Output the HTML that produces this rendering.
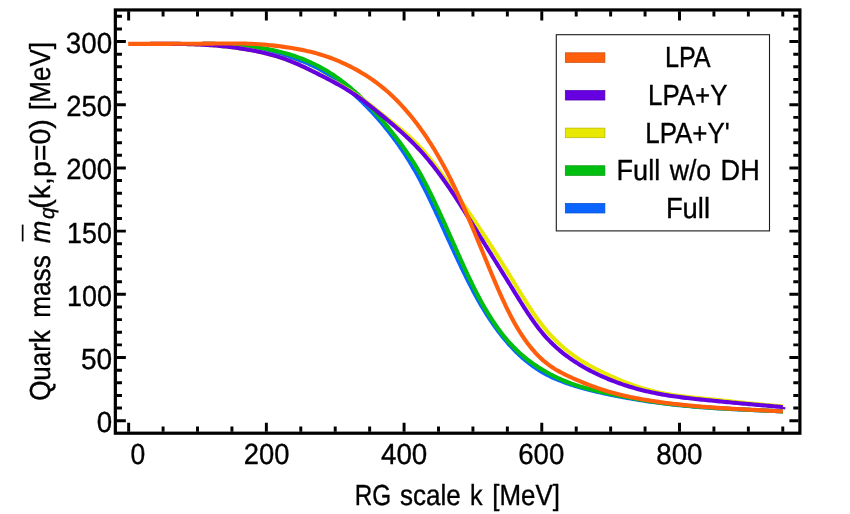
<!DOCTYPE html>
<html><head><meta charset="utf-8"><title>Quark mass vs RG scale</title>
<style>html,body{margin:0;padding:0;background:#fff;}body{width:850px;height:514px;overflow:hidden;position:relative;font-family:"Liberation Sans",sans-serif;}text{fill:#000;stroke:#000;stroke-width:0.35px}</style></head>
<body>
<svg width="850" height="514" viewBox="0 0 850 514" style="position:absolute;left:0;top:0;will-change:transform;text-rendering:geometricPrecision;font-family:'Liberation Sans',sans-serif">
<rect x="0" y="0" width="850" height="514" fill="#ffffff"/>
<g fill="none" stroke-width="4.1" stroke-linejoin="round" stroke-linecap="butt">
<path stroke="#0a64ff" d="M203.00 43.70L205.00 43.74L207.00 43.77L209.00 43.81L211.00 43.85L213.00 43.89L215.00 43.93L217.00 43.98L219.00 44.04L221.00 44.10L222.99 44.17L224.99 44.26L226.99 44.35L228.99 44.46L230.99 44.57L232.98 44.71L234.98 44.86L236.97 45.02L238.96 45.21L240.95 45.42L242.94 45.64L244.93 45.89L246.91 46.16L248.89 46.45L250.87 46.77L252.84 47.11L254.81 47.48L256.77 47.87L258.73 48.28L260.69 48.71L262.64 49.16L264.59 49.62L266.53 50.11L268.47 50.61L270.40 51.12L272.33 51.64L274.26 52.18L276.19 52.73L278.11 53.29L280.03 53.86L281.94 54.43L283.86 55.02L285.77 55.61L287.68 56.21L289.59 56.81L291.49 57.43L293.39 58.05L295.29 58.70L297.18 59.35L299.07 60.03L300.95 60.72L302.82 61.43L304.69 62.17L306.54 62.92L308.39 63.70L310.23 64.51L312.06 65.34L313.87 66.20L315.67 67.08L317.46 67.99L319.24 68.93L320.99 69.90L322.74 70.90L324.47 71.92L326.18 72.97L327.88 74.05L329.56 75.14L331.23 76.26L332.89 77.40L334.53 78.55L336.16 79.73L337.77 80.92L339.37 82.13L340.96 83.36L342.54 84.60L344.10 85.86L345.66 87.13L347.20 88.42L348.73 89.71L350.25 91.02L351.76 92.35L353.26 93.68L354.75 95.02L356.23 96.38L357.70 97.74L359.16 99.12L360.62 100.50L362.06 101.90L363.49 103.30L364.91 104.72L366.33 106.14L367.73 107.58L369.12 109.02L370.51 110.48L371.88 111.94L373.24 113.42L374.59 114.90L375.94 116.39L377.27 117.89L378.59 119.40L379.91 120.92L381.21 122.45L382.50 123.99L383.78 125.53L385.06 127.08L386.32 128.64L387.57 130.21L388.82 131.79L390.05 133.37L391.28 134.96L392.49 136.56L393.70 138.17L394.89 139.78L396.08 141.40L397.25 143.03L398.41 144.67L399.57 146.32L400.71 147.97L401.84 149.63L402.97 151.29L404.08 152.97L405.18 154.65L406.27 156.34L407.35 158.03L408.42 159.74L409.48 161.45L410.52 163.16L411.56 164.88L412.59 166.61L413.60 168.35L414.61 170.09L415.61 171.83L416.59 173.58L417.57 175.34L418.53 177.10L419.49 178.87L420.44 180.64L421.38 182.42L422.30 184.20L423.22 185.99L424.14 187.78L425.04 189.57L425.94 191.37L426.83 193.16L427.72 194.96L428.60 196.77L429.47 198.57L430.34 200.38L431.20 202.19L432.07 204.00L432.92 205.81L433.78 207.62L434.63 209.44L435.47 211.25L436.32 213.07L437.16 214.89L438.00 216.71L438.83 218.52L439.67 220.34L440.50 222.16L441.34 223.98L442.17 225.80L443.00 227.62L443.83 229.44L444.66 231.26L445.49 233.08L446.31 234.90L447.14 236.72L447.97 238.54L448.80 240.36L449.64 242.18L450.47 244.00L451.30 245.81L452.14 247.63L452.98 249.44L453.81 251.25L454.66 253.06L455.50 254.88L456.34 256.68L457.19 258.49L458.04 260.30L458.90 262.10L459.75 263.91L460.61 265.71L461.47 267.51L462.34 269.31L463.21 271.10L464.08 272.90L464.96 274.69L465.85 276.48L466.73 278.26L467.62 280.05L468.52 281.83L469.42 283.61L470.33 285.38L471.25 287.15L472.17 288.92L473.09 290.68L474.03 292.44L474.97 294.20L475.92 295.95L476.88 297.69L477.84 299.44L478.82 301.17L479.80 302.90L480.79 304.62L481.80 306.34L482.81 308.05L483.84 309.76L484.88 311.46L485.92 313.15L486.98 314.83L488.06 316.50L489.14 318.17L490.23 319.83L491.34 321.48L492.46 323.13L493.60 324.76L494.74 326.39L495.90 328.00L497.08 329.61L498.26 331.20L499.46 332.78L500.68 334.36L501.91 335.92L503.16 337.47L504.42 339.01L505.69 340.53L506.98 342.04L508.29 343.54L509.61 345.02L510.95 346.49L512.31 347.94L513.68 349.38L515.07 350.80L516.48 352.20L517.91 353.59L519.35 354.96L520.81 356.30L522.29 357.63L523.79 358.94L525.30 360.22L526.84 361.49L528.39 362.73L529.96 363.94L531.56 365.14L533.17 366.30L534.79 367.44L536.44 368.56L538.11 369.64L539.79 370.70L541.50 371.73L543.22 372.73L544.96 373.70L546.71 374.64L548.48 375.55L550.27 376.43L552.07 377.29L553.88 378.11L555.71 378.91L557.54 379.69L559.39 380.44L561.25 381.16L563.12 381.87L564.99 382.55L566.88 383.22L568.76 383.86L570.66 384.49L572.56 385.11L574.47 385.71L576.38 386.29L578.29 386.87L580.21 387.42L582.13 387.97L584.06 388.50L585.99 389.02L587.92 389.53L589.85 390.03L591.79 390.52L593.73 390.99L595.68 391.46L597.62 391.92L599.57 392.37L601.52 392.81L603.47 393.24L605.43 393.66L607.38 394.08L609.34 394.49L611.29 394.90L613.25 395.30L615.21 395.69L617.18 396.07L619.14 396.45L621.10 396.82L623.07 397.19L625.04 397.55L627.00 397.90L628.97 398.25L630.94 398.59L632.92 398.93L634.89 399.25L636.86 399.58L638.83 399.89L640.81 400.21L642.79 400.51L644.76 400.81L646.74 401.11L648.72 401.39L650.70 401.68L652.68 401.96L654.66 402.23L656.64 402.50L658.62 402.76L660.61 403.01L662.59 403.27L664.58 403.51L666.56 403.75L668.55 403.99L670.53 404.22L672.52 404.45L674.51 404.67L676.50 404.88L678.48 405.09L680.47 405.30L682.46 405.50L684.45 405.70L686.44 405.89L688.43 406.07L690.43 406.26L692.42 406.43L694.41 406.61L696.40 406.77L698.40 406.94L700.39 407.10L702.38 407.25L704.38 407.40L706.37 407.55L708.37 407.69L710.36 407.82L712.36 407.96L714.35 408.09L716.35 408.21L718.35 408.33L720.34 408.45L722.34 408.56L724.34 408.67L726.33 408.78L728.33 408.89L730.33 408.99L732.32 409.09L734.32 409.19L736.32 409.28L738.32 409.38L740.31 409.47L742.31 409.56L744.31 409.66L746.31 409.75L748.31 409.83L750.30 409.92L752.30 410.01L754.30 410.10L756.30 410.19L758.30 410.27L760.29 410.36L762.29 410.45L764.29 410.54L766.29 410.63L768.29 410.73L770.28 410.82L772.28 410.91L774.28 411.01L776.28 411.11L778.28 411.21L780.27 411.31L782.27 411.42L782.80 411.45"/>
<path stroke="#00be10" d="M203.00 43.72L205.00 43.73L207.00 43.75L209.00 43.78L211.00 43.81L213.00 43.85L215.00 43.90L217.00 43.96L219.00 44.03L221.00 44.10L222.99 44.19L224.99 44.28L226.99 44.38L228.99 44.50L230.98 44.62L232.98 44.75L234.97 44.90L236.97 45.05L238.96 45.22L240.95 45.40L242.95 45.59L244.94 45.79L246.93 46.00L248.91 46.23L250.90 46.47L252.89 46.72L254.87 46.98L256.85 47.26L258.83 47.56L260.81 47.86L262.78 48.19L264.75 48.53L266.72 48.89L268.69 49.26L270.65 49.65L272.61 50.06L274.57 50.48L276.52 50.93L278.47 51.39L280.41 51.87L282.35 52.38L284.28 52.90L286.21 53.44L288.14 54.00L290.05 54.58L291.96 55.19L293.87 55.81L295.76 56.46L297.65 57.13L299.53 57.82L301.41 58.53L303.27 59.26L305.13 60.02L306.98 60.80L308.82 61.60L310.65 62.42L312.47 63.26L314.27 64.13L316.07 65.02L317.86 65.93L319.64 66.86L321.40 67.82L323.15 68.79L324.90 69.79L326.63 70.81L328.34 71.85L330.05 72.91L331.74 73.99L333.42 75.09L335.09 76.20L336.74 77.34L338.38 78.50L340.01 79.68L341.62 80.87L343.23 82.08L344.81 83.31L346.39 84.56L347.95 85.83L349.50 87.11L351.03 88.40L352.55 89.72L354.06 91.04L355.55 92.39L357.03 93.74L358.50 95.11L359.96 96.50L361.40 97.89L362.83 99.30L364.25 100.72L365.66 102.15L367.06 103.59L368.45 105.04L369.83 106.50L371.20 107.96L372.56 109.44L373.91 110.92L375.25 112.41L376.59 113.91L377.92 115.41L379.24 116.92L380.55 118.44L381.85 119.96L383.15 121.49L384.44 123.03L385.72 124.57L387.00 126.11L388.27 127.66L389.53 129.22L390.79 130.78L392.05 132.34L393.30 133.91L394.54 135.49L395.77 137.07L396.99 138.66L398.21 140.26L399.42 141.86L400.62 143.47L401.81 145.09L402.98 146.72L404.15 148.36L405.31 150.00L406.45 151.65L407.59 153.31L408.71 154.98L409.82 156.65L410.92 158.34L412.01 160.03L413.09 161.73L414.15 163.44L415.20 165.15L416.24 166.87L417.27 168.60L418.28 170.34L419.28 172.09L420.27 173.84L421.25 175.59L422.22 177.36L423.18 179.13L424.12 180.90L425.06 182.68L425.99 184.46L426.91 186.24L427.82 188.03L428.73 189.82L429.63 191.62L430.52 193.42L431.40 195.22L432.28 197.02L433.15 198.83L434.02 200.64L434.89 202.45L435.74 204.26L436.60 206.07L437.45 207.89L438.29 209.71L439.14 211.52L439.98 213.34L440.81 215.16L441.65 216.99L442.48 218.81L443.31 220.63L444.13 222.46L444.95 224.28L445.78 226.11L446.60 227.93L447.42 229.76L448.23 231.59L449.05 233.41L449.86 235.24L450.68 237.07L451.49 238.90L452.31 240.72L453.12 242.55L453.93 244.38L454.75 246.20L455.56 248.03L456.38 249.85L457.19 251.68L458.01 253.50L458.83 255.33L459.65 257.15L460.47 258.97L461.29 260.79L462.12 262.61L462.94 264.43L463.78 266.24L464.61 268.05L465.45 269.87L466.29 271.68L467.13 273.49L467.98 275.29L468.83 277.09L469.69 278.90L470.55 280.69L471.41 282.49L472.29 284.28L473.17 286.07L474.05 287.85L474.94 289.64L475.84 291.41L476.75 293.19L477.66 294.95L478.59 296.72L479.52 298.47L480.46 300.23L481.42 301.97L482.38 303.71L483.35 305.44L484.34 307.17L485.34 308.89L486.35 310.60L487.37 312.31L488.41 314.00L489.45 315.69L490.52 317.37L491.59 319.04L492.68 320.71L493.78 322.36L494.90 324.00L496.03 325.64L497.17 327.26L498.34 328.87L499.51 330.47L500.71 332.06L501.92 333.63L503.14 335.19L504.39 336.74L505.65 338.27L506.93 339.79L508.23 341.29L509.55 342.78L510.89 344.24L512.25 345.69L513.62 347.12L515.02 348.53L516.44 349.93L517.87 351.30L519.33 352.65L520.81 353.98L522.30 355.29L523.82 356.57L525.35 357.84L526.90 359.08L528.47 360.30L530.06 361.50L531.67 362.67L533.29 363.83L534.93 364.96L536.58 366.07L538.25 367.16L539.93 368.23L541.62 369.28L543.33 370.31L545.05 371.32L546.78 372.31L548.52 373.28L550.27 374.22L552.04 375.15L553.81 376.05L555.60 376.94L557.40 377.80L559.21 378.64L561.03 379.45L562.86 380.24L564.70 381.01L566.55 381.76L568.41 382.48L570.28 383.18L572.16 383.86L574.04 384.52L575.93 385.15L577.84 385.76L579.74 386.35L581.66 386.93L583.57 387.48L585.50 388.02L587.43 388.54L589.36 389.04L591.30 389.54L593.24 390.02L595.18 390.48L597.12 390.94L599.07 391.39L601.02 391.83L602.97 392.26L604.93 392.69L606.88 393.12L608.84 393.54L610.79 393.95L612.75 394.36L614.71 394.77L616.67 395.17L618.62 395.57L620.59 395.97L622.55 396.35L624.51 396.74L626.47 397.11L628.44 397.49L630.40 397.85L632.37 398.22L634.34 398.57L636.31 398.92L638.27 399.27L640.25 399.60L642.22 399.93L644.19 400.26L646.16 400.58L648.14 400.89L650.12 401.20L652.09 401.49L654.07 401.79L656.05 402.07L658.03 402.35L660.01 402.62L661.99 402.89L663.97 403.15L665.96 403.40L667.94 403.65L669.93 403.89L671.91 404.12L673.90 404.35L675.89 404.58L677.87 404.79L679.86 405.01L681.85 405.21L683.84 405.41L685.83 405.61L687.82 405.80L689.81 405.99L691.81 406.17L693.80 406.35L695.79 406.52L697.78 406.68L699.78 406.85L701.77 407.01L703.76 407.16L705.76 407.31L707.75 407.46L709.75 407.60L711.74 407.74L713.74 407.87L715.73 408.00L717.73 408.13L719.72 408.25L721.72 408.37L723.72 408.49L725.71 408.61L727.71 408.72L729.71 408.83L731.70 408.94L733.70 409.04L735.70 409.15L737.70 409.25L739.69 409.35L741.69 409.45L743.69 409.55L745.69 409.65L747.68 409.74L749.68 409.84L751.68 409.93L753.68 410.02L755.67 410.12L757.67 410.21L759.67 410.30L761.67 410.40L763.67 410.49L765.66 410.58L767.66 410.68L769.66 410.77L771.66 410.87L773.65 410.97L775.65 411.07L777.65 411.17L779.65 411.27L781.64 411.37L782.80 411.43"/>
<path stroke="#e8e800" d="M150.00 43.88L152.00 43.86L154.00 43.85L156.00 43.84L158.00 43.83L160.00 43.82L162.00 43.81L164.00 43.81L166.00 43.81L168.00 43.81L170.00 43.82L172.00 43.83L174.00 43.85L176.00 43.87L178.00 43.89L180.00 43.92L182.00 43.95L184.00 43.99L186.00 44.04L188.00 44.09L190.00 44.14L192.00 44.21L193.99 44.28L195.99 44.36L197.99 44.44L199.99 44.53L201.99 44.64L203.98 44.74L205.98 44.86L207.98 44.99L209.97 45.12L211.97 45.27L213.96 45.42L215.96 45.58L217.95 45.76L219.94 45.94L221.93 46.13L223.92 46.34L225.91 46.55L227.90 46.78L229.89 47.01L231.87 47.26L233.86 47.51L235.84 47.78L237.82 48.06L239.80 48.35L241.78 48.65L243.75 48.96L245.73 49.29L247.70 49.62L249.67 49.97L251.64 50.32L253.61 50.69L255.57 51.08L257.53 51.47L259.49 51.89L261.45 52.31L263.40 52.75L265.35 53.21L267.29 53.69L269.24 54.19L271.17 54.70L273.10 55.23L275.03 55.78L276.95 56.35L278.86 56.95L280.77 57.56L282.67 58.20L284.56 58.86L286.45 59.54L288.32 60.24L290.19 60.96L292.06 61.70L293.91 62.45L295.76 63.23L297.60 64.01L299.44 64.82L301.27 65.63L303.09 66.45L304.91 67.29L306.73 68.14L308.54 68.99L310.35 69.85L312.15 70.72L313.95 71.59L315.75 72.47L317.54 73.35L319.34 74.24L321.13 75.13L322.92 76.02L324.71 76.91L326.50 77.81L328.29 78.72L330.07 79.63L331.85 80.55L333.62 81.48L335.39 82.42L337.15 83.37L338.91 84.33L340.66 85.31L342.40 86.30L344.14 87.30L345.87 88.32L347.59 89.35L349.30 90.40L350.99 91.47L352.68 92.55L354.36 93.65L356.03 94.76L357.69 95.90L359.33 97.04L360.97 98.21L362.59 99.38L364.21 100.57L365.82 101.76L367.42 102.97L369.02 104.18L370.60 105.40L372.19 106.63L373.77 107.86L375.34 109.10L376.91 110.34L378.48 111.58L380.05 112.83L381.61 114.08L383.17 115.33L384.73 116.58L386.30 117.82L387.86 119.07L389.42 120.32L390.99 121.56L392.55 122.80L394.12 124.04L395.69 125.29L397.25 126.54L398.82 127.79L400.37 129.05L401.92 130.32L403.47 131.61L405.00 132.90L406.52 134.21L408.04 135.53L409.54 136.86L411.02 138.22L412.49 139.58L413.95 140.97L415.39 142.37L416.82 143.80L418.22 145.24L419.61 146.70L420.98 148.17L422.33 149.67L423.66 151.18L424.98 152.70L426.28 154.23L427.57 155.77L428.84 157.33L430.10 158.89L431.35 160.46L432.59 162.04L433.82 163.63L435.05 165.22L436.26 166.82L437.47 168.42L438.67 170.03L439.86 171.64L441.05 173.25L442.23 174.87L443.41 176.49L444.58 178.11L445.75 179.74L446.92 181.37L448.08 182.99L449.24 184.62L450.40 186.25L451.56 187.88L452.72 189.52L453.88 191.15L455.04 192.78L456.19 194.41L457.35 196.05L458.50 197.69L459.65 199.32L460.80 200.96L461.95 202.60L463.09 204.24L464.24 205.89L465.38 207.53L466.52 209.17L467.66 210.82L468.79 212.47L469.93 214.12L471.06 215.77L472.19 217.42L473.32 219.08L474.44 220.73L475.57 222.39L476.69 224.05L477.81 225.71L478.92 227.37L480.04 229.03L481.15 230.70L482.26 232.37L483.36 234.04L484.47 235.71L485.57 237.38L486.66 239.05L487.76 240.73L488.85 242.41L489.95 244.09L491.03 245.77L492.12 247.45L493.20 249.13L494.28 250.82L495.36 252.50L496.44 254.19L497.51 255.88L498.59 257.57L499.66 259.26L500.72 260.96L501.79 262.65L502.85 264.35L503.91 266.05L504.97 267.75L506.03 269.45L507.08 271.15L508.13 272.85L509.18 274.56L510.23 276.26L511.28 277.97L512.32 279.68L513.36 281.39L514.41 283.09L515.45 284.80L516.49 286.51L517.53 288.21L518.57 289.92L519.62 291.62L520.67 293.32L521.72 295.02L522.77 296.72L523.83 298.41L524.89 300.10L525.95 301.79L527.03 303.47L528.10 305.15L529.19 306.82L530.28 308.49L531.38 310.15L532.49 311.80L533.60 313.45L534.73 315.09L535.87 316.72L537.02 318.34L538.19 319.95L539.37 321.55L540.56 323.14L541.78 324.71L543.00 326.27L544.25 327.82L545.51 329.35L546.80 330.87L548.10 332.37L549.42 333.85L550.75 335.32L552.11 336.77L553.48 338.21L554.87 339.62L556.29 341.02L557.72 342.40L559.16 343.76L560.63 345.10L562.12 346.42L563.62 347.73L565.14 349.01L566.68 350.27L568.24 351.50L569.81 352.72L571.40 353.92L573.01 355.10L574.63 356.25L576.26 357.39L577.91 358.50L579.58 359.60L581.25 360.67L582.95 361.72L584.65 362.76L586.37 363.77L588.09 364.77L589.83 365.74L591.58 366.70L593.34 367.65L595.10 368.57L596.88 369.49L598.66 370.38L600.45 371.27L602.25 372.14L604.05 373.01L605.85 373.86L607.67 374.70L609.48 375.54L611.30 376.36L613.12 377.18L614.95 377.98L616.78 378.78L618.62 379.56L620.47 380.33L622.31 381.08L624.17 381.83L626.03 382.56L627.89 383.27L629.76 383.98L631.63 384.66L633.51 385.34L635.40 385.99L637.29 386.63L639.19 387.26L641.09 387.86L643.00 388.45L644.92 389.02L646.84 389.56L648.76 390.09L650.69 390.60L652.63 391.09L654.57 391.56L656.52 392.00L658.47 392.43L660.43 392.84L662.39 393.23L664.35 393.61L666.32 393.96L668.28 394.31L670.26 394.63L672.23 394.95L674.21 395.25L676.19 395.53L678.17 395.81L680.15 396.07L682.13 396.32L684.11 396.57L686.10 396.80L688.09 397.03L690.07 397.25L692.06 397.46L694.05 397.67L696.04 397.88L698.03 398.08L700.02 398.28L702.01 398.47L704.00 398.67L705.99 398.86L707.98 399.06L709.97 399.26L711.96 399.46L713.95 399.66L715.94 399.87L717.93 400.07L719.92 400.28L721.91 400.49L723.90 400.70L725.89 400.91L727.88 401.13L729.86 401.34L731.85 401.55L733.84 401.76L735.83 401.98L737.82 402.19L739.81 402.40L741.80 402.61L743.79 402.82L745.78 403.02L747.76 403.23L749.75 403.43L751.74 403.63L753.73 403.83L755.72 404.03L757.71 404.22L759.71 404.41L761.70 404.60L763.69 404.78L765.68 404.96L767.67 405.13L769.66 405.30L771.66 405.47L773.65 405.63L775.65 405.78L777.64 405.93L779.63 406.07L781.63 406.21L782.80 406.29"/>
<path stroke="#6600e0" d="M150.00 43.88L152.00 43.86L154.00 43.85L156.00 43.84L158.00 43.83L160.00 43.82L162.00 43.81L164.00 43.81L166.00 43.81L168.00 43.81L170.00 43.82L172.00 43.83L174.00 43.85L176.00 43.87L178.00 43.89L180.00 43.92L182.00 43.95L184.00 43.99L186.00 44.04L188.00 44.09L190.00 44.14L192.00 44.21L193.99 44.28L195.99 44.36L197.99 44.44L199.99 44.53L201.99 44.64L203.98 44.74L205.98 44.86L207.98 44.99L209.97 45.12L211.97 45.27L213.96 45.42L215.96 45.58L217.95 45.76L219.94 45.94L221.93 46.13L223.92 46.34L225.91 46.55L227.90 46.78L229.89 47.01L231.87 47.26L233.86 47.51L235.84 47.78L237.82 48.06L239.80 48.35L241.78 48.65L243.76 48.96L245.73 49.28L247.70 49.62L249.67 49.96L251.64 50.32L253.61 50.69L255.57 51.07L257.54 51.47L259.50 51.88L261.45 52.30L263.40 52.75L265.35 53.21L267.30 53.68L269.24 54.18L271.17 54.70L273.10 55.23L275.03 55.79L276.94 56.37L278.86 56.96L280.76 57.59L282.66 58.23L284.55 58.90L286.43 59.59L288.30 60.30L290.17 61.03L292.03 61.78L293.88 62.55L295.72 63.34L297.56 64.14L299.39 64.96L301.21 65.79L303.03 66.63L304.84 67.48L306.65 68.34L308.45 69.21L310.25 70.09L312.04 70.98L313.84 71.87L315.63 72.76L317.41 73.66L319.20 74.56L320.98 75.47L322.77 76.38L324.55 77.29L326.33 78.20L328.11 79.12L329.88 80.05L331.65 80.99L333.42 81.93L335.18 82.88L336.94 83.85L338.69 84.82L340.43 85.81L342.17 86.81L343.90 87.82L345.62 88.85L347.33 89.89L349.04 90.94L350.73 92.01L352.42 93.10L354.10 94.20L355.76 95.32L357.42 96.46L359.06 97.61L360.69 98.78L362.31 99.95L363.93 101.14L365.53 102.35L367.13 103.56L368.72 104.78L370.30 106.01L371.88 107.25L373.45 108.50L375.01 109.75L376.57 111.01L378.12 112.28L379.66 113.55L381.21 114.83L382.75 116.11L384.28 117.39L385.81 118.68L387.34 119.97L388.87 121.27L390.40 122.56L391.92 123.86L393.44 125.16L394.96 126.47L396.47 127.78L397.98 129.09L399.49 130.41L400.99 131.74L402.48 133.08L403.97 134.43L405.45 135.78L406.92 137.15L408.38 138.52L409.83 139.91L411.27 141.31L412.70 142.72L414.12 144.14L415.53 145.57L416.92 147.02L418.30 148.47L419.67 149.94L421.03 151.43L422.38 152.92L423.71 154.43L425.03 155.94L426.33 157.47L427.63 159.00L428.91 160.55L430.18 162.10L431.45 163.66L432.70 165.23L433.94 166.81L435.17 168.40L436.39 169.99L437.61 171.59L438.81 173.19L440.01 174.81L441.19 176.43L442.37 178.05L443.54 179.68L444.71 181.32L445.86 182.96L447.01 184.60L448.15 186.25L449.28 187.91L450.41 189.57L451.53 191.23L452.64 192.90L453.75 194.57L454.85 196.25L455.95 197.93L457.04 199.61L458.12 201.29L459.21 202.98L460.28 204.67L461.36 206.36L462.43 208.05L463.50 209.74L464.56 211.44L465.62 213.14L466.68 214.84L467.74 216.54L468.80 218.24L469.85 219.94L470.90 221.64L471.96 223.34L473.01 225.04L474.06 226.75L475.11 228.45L476.16 230.15L477.20 231.85L478.25 233.56L479.30 235.26L480.35 236.96L481.41 238.66L482.46 240.36L483.51 242.06L484.56 243.76L485.62 245.46L486.67 247.16L487.73 248.85L488.79 250.55L489.84 252.25L490.90 253.95L491.96 255.64L493.01 257.34L494.07 259.04L495.13 260.74L496.19 262.44L497.24 264.13L498.30 265.83L499.36 267.53L500.41 269.23L501.47 270.93L502.53 272.63L503.58 274.33L504.63 276.03L505.69 277.73L506.74 279.43L507.79 281.13L508.85 282.83L509.90 284.54L510.95 286.24L511.99 287.94L513.04 289.65L514.09 291.35L515.14 293.05L516.19 294.75L517.24 296.45L518.29 298.15L519.35 299.84L520.41 301.53L521.47 303.22L522.54 304.91L523.61 306.59L524.69 308.27L525.77 309.94L526.86 311.61L527.96 313.28L529.07 314.93L530.18 316.58L531.31 318.23L532.44 319.86L533.59 321.49L534.74 323.11L535.91 324.71L537.10 326.31L538.30 327.89L539.52 329.46L540.76 331.01L542.01 332.55L543.29 334.07L544.58 335.57L545.90 337.05L547.24 338.52L548.59 339.97L549.97 341.40L551.37 342.81L552.79 344.19L554.23 345.56L555.69 346.91L557.17 348.24L558.67 349.54L560.19 350.83L561.72 352.09L563.27 353.33L564.85 354.55L566.43 355.75L568.03 356.93L569.65 358.10L571.28 359.24L572.93 360.36L574.58 361.47L576.25 362.56L577.94 363.63L579.63 364.68L581.34 365.71L583.05 366.72L584.78 367.71L586.52 368.68L588.27 369.64L590.03 370.58L591.81 371.49L593.59 372.39L595.38 373.28L597.17 374.14L598.98 374.99L600.79 375.82L602.62 376.63L604.45 377.43L606.28 378.22L608.13 378.98L609.97 379.74L611.83 380.47L613.69 381.20L615.56 381.90L617.43 382.59L619.31 383.27L621.20 383.93L623.09 384.57L624.98 385.20L626.88 385.82L628.79 386.42L630.70 387.00L632.61 387.57L634.53 388.12L636.46 388.66L638.39 389.19L640.32 389.69L642.25 390.19L644.19 390.67L646.14 391.13L648.08 391.58L650.03 392.02L651.99 392.44L653.94 392.85L655.90 393.25L657.86 393.63L659.83 394.00L661.80 394.36L663.76 394.70L665.74 395.04L667.71 395.36L669.68 395.67L671.66 395.97L673.64 396.27L675.62 396.55L677.60 396.82L679.58 397.09L681.56 397.35L683.54 397.60L685.53 397.84L687.51 398.08L689.50 398.31L691.49 398.53L693.48 398.75L695.46 398.97L697.45 399.18L699.44 399.39L701.43 399.59L703.42 399.79L705.41 399.99L707.40 400.19L709.39 400.39L711.38 400.58L713.37 400.78L715.36 400.97L717.35 401.16L719.34 401.35L721.33 401.54L723.33 401.74L725.32 401.93L727.31 402.11L729.30 402.30L731.29 402.49L733.28 402.68L735.27 402.86L737.26 403.05L739.25 403.23L741.25 403.42L743.24 403.60L745.23 403.78L747.22 403.96L749.21 404.15L751.20 404.33L753.20 404.50L755.19 404.68L757.18 404.86L759.17 405.04L761.17 405.21L763.16 405.39L765.15 405.56L767.14 405.74L769.13 405.91L771.13 406.08L773.12 406.25L775.11 406.42L777.11 406.59L779.10 406.76L781.09 406.93L782.80 407.07"/>
<path stroke="#ff5e0c" d="M128.20 43.85L130.20 43.85L132.20 43.85L134.20 43.85L136.20 43.85L138.20 43.85L140.20 43.86L142.20 43.86L144.20 43.86L146.20 43.86L148.20 43.86L150.20 43.86L152.20 43.85L154.20 43.85L156.20 43.85L158.20 43.85L160.20 43.85L162.20 43.84L164.20 43.84L166.20 43.84L168.20 43.83L170.20 43.83L172.20 43.82L174.20 43.82L176.20 43.81L178.20 43.81L180.20 43.80L182.20 43.79L184.20 43.78L186.20 43.77L188.20 43.76L190.20 43.75L192.20 43.74L194.20 43.73L196.20 43.72L198.20 43.70L200.20 43.69L202.20 43.67L204.20 43.66L206.20 43.64L208.20 43.63L210.20 43.61L212.20 43.59L214.20 43.57L216.20 43.55L218.20 43.53L220.20 43.51L222.20 43.49L224.20 43.47L226.20 43.45L228.20 43.44L230.20 43.43L232.20 43.43L234.20 43.43L236.20 43.44L238.20 43.46L240.20 43.49L242.20 43.52L244.20 43.56L246.20 43.62L248.20 43.68L250.20 43.76L252.19 43.85L254.19 43.95L256.19 44.06L258.18 44.19L260.18 44.33L262.18 44.47L264.17 44.64L266.16 44.81L268.15 45.00L270.14 45.19L272.13 45.40L274.12 45.62L276.11 45.85L278.10 46.09L280.08 46.34L282.06 46.60L284.05 46.88L286.03 47.16L288.01 47.46L289.98 47.76L291.96 48.08L293.93 48.41L295.90 48.76L297.87 49.11L299.84 49.49L301.80 49.88L303.76 50.29L305.72 50.71L307.67 51.15L309.62 51.61L311.57 52.09L313.51 52.58L315.44 53.10L317.37 53.64L319.29 54.19L321.21 54.77L323.12 55.37L325.03 55.99L326.93 56.63L328.82 57.30L330.70 57.98L332.58 58.69L334.45 59.41L336.31 60.16L338.16 60.92L340.00 61.71L341.84 62.51L343.66 63.34L345.48 64.19L347.29 65.05L349.09 65.94L350.88 66.84L352.66 67.76L354.43 68.70L356.20 69.66L357.95 70.64L359.69 71.63L361.42 72.65L363.14 73.68L364.85 74.74L366.54 75.81L368.23 76.90L369.90 78.01L371.56 79.15L373.20 80.30L374.83 81.47L376.45 82.66L378.06 83.87L379.65 85.09L381.22 86.34L382.79 87.60L384.33 88.89L385.86 90.19L387.38 91.51L388.88 92.84L390.37 94.19L391.84 95.56L393.30 96.95L394.74 98.35L396.17 99.76L397.59 101.19L398.99 102.63L400.37 104.09L401.74 105.56L403.10 107.04L404.44 108.54L405.77 110.05L407.09 111.56L408.39 113.09L409.68 114.64L410.96 116.19L412.22 117.75L413.47 119.32L414.71 120.91L415.94 122.50L417.16 124.10L418.36 125.71L419.55 127.32L420.73 128.95L421.90 130.58L423.06 132.23L424.21 133.88L425.35 135.53L426.47 137.20L427.59 138.87L428.69 140.55L429.78 142.24L430.87 143.93L431.94 145.63L433.00 147.33L434.05 149.05L435.10 150.76L436.13 152.49L437.15 154.22L438.17 155.95L439.17 157.69L440.17 159.44L441.15 161.19L442.13 162.94L443.10 164.70L444.06 166.47L445.01 168.24L445.95 170.01L446.88 171.79L447.81 173.58L448.72 175.36L449.63 177.15L450.53 178.95L451.43 180.75L452.31 182.55L453.19 184.36L454.07 186.16L454.93 187.97L455.79 189.79L456.64 191.60L457.49 193.42L458.33 195.24L459.17 197.07L460.00 198.89L460.83 200.72L461.66 202.55L462.48 204.38L463.29 206.21L464.10 208.04L464.91 209.88L465.71 211.71L466.51 213.55L467.31 215.39L468.10 217.23L468.89 219.07L469.68 220.91L470.47 222.75L471.25 224.60L472.03 226.44L472.81 228.29L473.58 230.13L474.36 231.98L475.13 233.83L475.90 235.68L476.67 237.53L477.43 239.38L478.20 241.23L478.96 243.08L479.72 244.93L480.49 246.78L481.25 248.63L482.01 250.48L482.76 252.33L483.52 254.18L484.28 256.03L485.04 257.88L485.80 259.73L486.56 261.58L487.32 263.43L488.08 265.28L488.84 267.13L489.60 268.97L490.37 270.82L491.13 272.66L491.90 274.51L492.67 276.35L493.45 278.19L494.22 280.03L495.00 281.87L495.78 283.70L496.57 285.53L497.36 287.37L498.16 289.20L498.95 291.02L499.76 292.85L500.57 294.67L501.38 296.49L502.20 298.30L503.03 300.11L503.87 301.92L504.71 303.72L505.56 305.52L506.42 307.32L507.29 309.11L508.17 310.89L509.05 312.67L509.95 314.44L510.86 316.20L511.79 317.96L512.73 319.71L513.68 321.46L514.64 323.19L515.62 324.92L516.62 326.64L517.63 328.34L518.65 330.04L519.69 331.73L520.75 333.41L521.83 335.07L522.92 336.73L524.04 338.37L525.17 339.99L526.33 341.60L527.50 343.20L528.70 344.78L529.91 346.34L531.16 347.89L532.42 349.41L533.71 350.91L535.03 352.39L536.37 353.84L537.74 355.27L539.14 356.67L540.57 358.04L542.03 359.38L543.52 360.69L545.03 361.97L546.58 363.20L548.15 364.41L549.75 365.58L551.38 366.71L553.04 367.81L554.71 368.88L556.41 369.91L558.13 370.90L559.87 371.87L561.63 372.81L563.40 373.72L565.19 374.61L566.98 375.48L568.79 376.33L570.60 377.17L572.41 378.00L574.24 378.82L576.06 379.63L577.90 380.42L579.73 381.20L581.58 381.98L583.42 382.73L585.28 383.48L587.13 384.22L589.00 384.94L590.86 385.64L592.74 386.34L594.61 387.02L596.50 387.68L598.39 388.33L600.28 388.97L602.18 389.59L604.08 390.20L605.99 390.79L607.90 391.37L609.82 391.93L611.74 392.47L613.67 393.00L615.60 393.52L617.53 394.02L619.47 394.51L621.41 394.98L623.36 395.44L625.30 395.89L627.25 396.32L629.21 396.75L631.16 397.16L633.12 397.56L635.08 397.95L637.04 398.32L639.01 398.69L640.98 399.05L642.94 399.40L644.91 399.74L646.89 400.07L648.86 400.39L650.83 400.71L652.81 401.02L654.79 401.32L656.76 401.61L658.74 401.90L660.72 402.18L662.70 402.45L664.68 402.72L666.67 402.98L668.65 403.23L670.64 403.48L672.62 403.72L674.61 403.96L676.59 404.19L678.58 404.41L680.57 404.63L682.56 404.84L684.54 405.05L686.53 405.25L688.52 405.44L690.51 405.64L692.51 405.82L694.50 406.00L696.49 406.18L698.48 406.35L700.47 406.52L702.47 406.68L704.46 406.84L706.46 407.00L708.45 407.15L710.44 407.30L712.44 407.44L714.43 407.58L716.43 407.72L718.42 407.85L720.42 407.98L722.42 408.11L724.41 408.24L726.41 408.36L728.40 408.48L730.40 408.60L732.40 408.71L734.39 408.83L736.39 408.94L738.39 409.05L740.38 409.16L742.38 409.27L744.38 409.38L746.38 409.48L748.37 409.59L750.37 409.69L752.37 409.80L754.36 409.90L756.36 410.01L758.36 410.11L760.36 410.22L762.35 410.32L764.35 410.42L766.35 410.53L768.34 410.64L770.34 410.74L772.34 410.85L774.34 410.96L776.33 411.07L778.33 411.19L780.33 411.30L782.32 411.42L782.80 411.44"/>
</g>
<path d="M782.3 407.9L785.3 408.3" stroke="#6600e0" stroke-width="2.2" fill="none"/>
<path d="M128.65 431.80V422.70M128.65 11.35V20.45M163.08 431.80V426.60M163.08 11.35V16.55M197.51 431.80V426.60M197.51 11.35V16.55M231.93 431.80V426.60M231.93 11.35V16.55M266.36 431.80V422.70M266.36 11.35V20.45M300.79 431.80V426.60M300.79 11.35V16.55M335.22 431.80V426.60M335.22 11.35V16.55M369.65 431.80V426.60M369.65 11.35V16.55M404.07 431.80V422.70M404.07 11.35V20.45M438.50 431.80V426.60M438.50 11.35V16.55M472.93 431.80V426.60M472.93 11.35V16.55M507.36 431.80V426.60M507.36 11.35V16.55M541.79 431.80V422.70M541.79 11.35V20.45M576.21 431.80V426.60M576.21 11.35V16.55M610.64 431.80V426.60M610.64 11.35V16.55M645.07 431.80V426.60M645.07 11.35V16.55M679.50 431.80V422.70M679.50 11.35V20.45M713.93 431.80V426.60M713.93 11.35V16.55M748.35 431.80V426.60M748.35 11.35V16.55M782.78 431.80V426.60M782.78 11.35V16.55M116.75 420.70H125.85M798.50 420.70H789.40M116.75 408.06H121.95M798.50 408.06H793.30M116.75 395.42H121.95M798.50 395.42H793.30M116.75 382.79H121.95M798.50 382.79H793.30M116.75 370.15H121.95M798.50 370.15H793.30M116.75 357.51H125.85M798.50 357.51H789.40M116.75 344.87H121.95M798.50 344.87H793.30M116.75 332.23H121.95M798.50 332.23H793.30M116.75 319.60H121.95M798.50 319.60H793.30M116.75 306.96H121.95M798.50 306.96H793.30M116.75 294.32H125.85M798.50 294.32H789.40M116.75 281.68H121.95M798.50 281.68H793.30M116.75 269.04H121.95M798.50 269.04H793.30M116.75 256.41H121.95M798.50 256.41H793.30M116.75 243.77H121.95M798.50 243.77H793.30M116.75 231.13H125.85M798.50 231.13H789.40M116.75 218.49H121.95M798.50 218.49H793.30M116.75 205.85H121.95M798.50 205.85H793.30M116.75 193.22H121.95M798.50 193.22H793.30M116.75 180.58H121.95M798.50 180.58H793.30M116.75 167.94H125.85M798.50 167.94H789.40M116.75 155.30H121.95M798.50 155.30H793.30M116.75 142.66H121.95M798.50 142.66H793.30M116.75 130.03H121.95M798.50 130.03H793.30M116.75 117.39H121.95M798.50 117.39H793.30M116.75 104.75H125.85M798.50 104.75H789.40M116.75 92.11H121.95M798.50 92.11H793.30M116.75 79.47H121.95M798.50 79.47H793.30M116.75 66.84H121.95M798.50 66.84H793.30M116.75 54.20H121.95M798.50 54.20H793.30M116.75 41.56H125.85M798.50 41.56H789.40M116.75 28.92H121.95M798.50 28.92H793.30M116.75 16.28H121.95M798.50 16.28H793.30" stroke="#000" stroke-width="2.95" fill="none"/>
<rect x="115.35" y="9.95" width="684.55" height="423.25" fill="none" stroke="#000" stroke-width="3.20"/>
<rect x="21.8" y="224.6" width="1.7" height="16.8" fill="#000"/>
<rect x="556.3" y="34.7" width="213.2" height="196.2" fill="#fff" stroke="#1a1a1a" stroke-width="1.1"/>
<rect x="565.3" y="52.80" width="39.6" height="9.6" fill="#ff5e0c" stroke="#c8480a" stroke-width="0.7"/>
<rect x="565.3" y="90.45" width="39.6" height="9.6" fill="#6600e0" stroke="#5000b0" stroke-width="0.7"/>
<rect x="565.3" y="128.10" width="39.6" height="9.6" fill="#e8e800" stroke="#b4b400" stroke-width="0.7"/>
<rect x="565.3" y="165.75" width="39.6" height="9.6" fill="#00be10" stroke="#00960c" stroke-width="0.7"/>
<rect x="565.3" y="203.40" width="39.6" height="9.6" fill="#0a64ff" stroke="#0850c8" stroke-width="0.7"/>
<text x="96.77" y="432.15" font-size="29.0" textLength="15.38" lengthAdjust="spacingAndGlyphs">0</text>
<text x="80.96" y="368.96" font-size="29.0" textLength="31.19" lengthAdjust="spacingAndGlyphs">50</text>
<text x="67.05" y="305.77" font-size="29.0" textLength="44.91" lengthAdjust="spacingAndGlyphs">100</text>
<text x="67.05" y="242.58" font-size="29.0" textLength="44.91" lengthAdjust="spacingAndGlyphs">150</text>
<text x="66.17" y="179.39" font-size="29.0" textLength="45.84" lengthAdjust="spacingAndGlyphs">200</text>
<text x="66.17" y="116.20" font-size="29.0" textLength="45.84" lengthAdjust="spacingAndGlyphs">250</text>
<text x="65.84" y="53.01" font-size="29.0" textLength="46.30" lengthAdjust="spacingAndGlyphs">300</text>
<text x="130.61" y="464.00" font-size="29.0" textLength="14.74" lengthAdjust="spacingAndGlyphs">0</text>
<text x="243.78" y="464.00" font-size="29.0" textLength="45.59" lengthAdjust="spacingAndGlyphs">200</text>
<text x="380.96" y="464.00" font-size="29.0" textLength="46.32" lengthAdjust="spacingAndGlyphs">400</text>
<text x="518.26" y="464.00" font-size="29.0" textLength="46.05" lengthAdjust="spacingAndGlyphs">600</text>
<text x="656.28" y="464.00" font-size="29.0" textLength="46.22" lengthAdjust="spacingAndGlyphs">800</text>
<text x="354.65" y="504.50" font-size="29.0" textLength="36.40" lengthAdjust="spacingAndGlyphs">RG</text>
<text x="400.05" y="504.50" font-size="29.0" textLength="60.77" lengthAdjust="spacingAndGlyphs">scale</text>
<text x="470.05" y="504.50" font-size="29.0" textLength="12.54" lengthAdjust="spacingAndGlyphs">k</text>
<text x="492.34" y="504.50" font-size="29.0" textLength="67.67" lengthAdjust="spacingAndGlyphs">[MeV]</text>
<text x="664.92" y="67.40" font-size="29.0" textLength="45.71" lengthAdjust="spacingAndGlyphs">LPA</text>
<text x="647.98" y="105.10" font-size="29.0" textLength="79.57" lengthAdjust="spacingAndGlyphs">LPA+Y</text>
<text x="645.23" y="142.80" font-size="29.0" textLength="84.39" lengthAdjust="spacingAndGlyphs">LPA+Y'</text>
<text x="616.60" y="180.40" font-size="29.0" textLength="43.57" lengthAdjust="spacingAndGlyphs">Full</text>
<text x="669.66" y="180.40" font-size="29.0" textLength="41.44" lengthAdjust="spacingAndGlyphs">w/o</text>
<text x="720.60" y="180.40" font-size="29.0" textLength="39.15" lengthAdjust="spacingAndGlyphs">DH</text>
<text x="665.88" y="217.90" font-size="29.0" textLength="44.16" lengthAdjust="spacingAndGlyphs">Full</text>
<text transform="translate(50.20 0) rotate(-90)" x="-400.86" y="0" font-size="29.0" textLength="70.78" lengthAdjust="spacingAndGlyphs">Quark</text>
<text transform="translate(50.20 0) rotate(-90)" x="-317.83" y="0" font-size="29.0" textLength="62.61" lengthAdjust="spacingAndGlyphs">mass</text>
<text transform="translate(50.20 0) rotate(-90)" x="-243.37" y="0" font-size="29.0" textLength="22.73" lengthAdjust="spacingAndGlyphs" font-style="italic">m</text>
<text transform="translate(54.10 0) rotate(-90)" x="-219.09" y="0" font-size="20.5" textLength="11.53" lengthAdjust="spacingAndGlyphs" font-style="italic">q</text>
<text transform="translate(50.20 0) rotate(-90)" x="-208.68" y="0" font-size="29.0" textLength="89.43" lengthAdjust="spacingAndGlyphs">(k,p=0)</text>
<text transform="translate(50.20 0) rotate(-90)" x="-110.12" y="0" font-size="29.0" textLength="68.19" lengthAdjust="spacingAndGlyphs">[MeV]</text>
</svg>
</body></html>
